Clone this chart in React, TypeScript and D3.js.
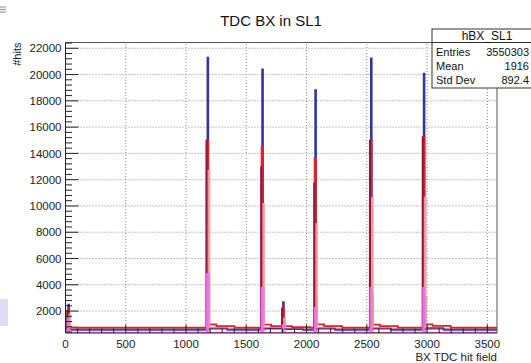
import React from "react";
import * as d3 from "d3";

const W = 531;
const H = 363;

const chartTitle = "TDC BX in SL1";
const xTitle = "BX TDC hit field";
const yTitle = "#hits";
const statsName = "hBX_SL1";
const statsLabels = ["Entries", "Mean", "Std Dev"];
const statsValues = ["3550303", "1916", "892.4"];

const xTicks = [0, 500, 1000, 1500, 2000, 2500, 3000, 3500];
const yTicks = [2000, 4000, 6000, 8000, 10000, 12000, 14000, 16000, 18000, 20000, 22000];
const xDomain = [0, 3580];
const yDomain = [330, 22440];

// peak positions (BX) and per-series peak heights
const peakBX = [27, 1182, 1636, 1809, 2076, 2538, 2976];
const blueTop = [2510, 21300, 20400, 2690, 18820, 21240, 20090];
const blueShoulder = [1500, 4900, 3800, 1200, 3000, 3300, 3100];
const redTop = [2100, 15000, 14490, 2300, 13650, 15000, 15250];
const darkRedTop = [2000, 15000, 12960, 2200, 11750, 15000, 15250];
const pinkTop = [1800, 12740, 10220, 1500, 8700, 10680, 10700];
const magentaTop = [1500, 4900, 3830, 1000, 2310, 3830, 3830];

// post-peak shoulders
const redTail = [760, 980, 960, 860, 980, 970, 990];
const redTail2 = [740, 860, 850, 780, 860, 860, 870];
const blueTail = [560, 700, 690, 620, 700, 700, 710];

// baseline levels
const redBase = 740;
const darkRedBase = 640;
const blueBase = 560;
const magentaBase = 430;

type Bin = [number, number, number];

function steps(base: number, spikes: Bin[]): [number, number][] {
  const s = [...spikes].sort((a, b) => a[0] - b[0]);
  const pts: [number, number][] = [];
  let cur = xDomain[0];
  for (const [a, b, v] of s) {
    if (a > cur) pts.push([cur, base]);
    pts.push([Math.max(a, xDomain[0]), v]);
    cur = b;
  }
  pts.push([cur, base]);
  pts.push([xDomain[1], base]);
  return pts;
}

const bluePts = steps(
  blueBase,
  peakBX.flatMap((p, i) => [
    [p - 6, p + 4, blueTop[i]] as Bin,
    [p + 4, p + 12, blueShoulder[i]] as Bin,
    [p + 12, p + 160, blueTail[i]] as Bin,
  ])
);
const redPts = steps(
  redBase,
  peakBX.flatMap((p, i) => [
    [p - 9, p + 2, redTop[i]] as Bin,
    [p + 2, p + 70, redTail[i]] as Bin,
    [p + 70, p + 220, redTail2[i]] as Bin,
  ])
);
const darkRedPts = steps(
  darkRedBase,
  peakBX.map((p, i) => [p - 16, p - 8, darkRedTop[i]] as Bin)
);
const pinkPts = steps(
  yDomain[0],
  peakBX.map((p, i) => [p - 20, p + 20, pinkTop[i]] as Bin)
);
const magentaPts = steps(
  magentaBase,
  peakBX.map((p, i) => [p - 16, p + 6, magentaTop[i]] as Bin)
);

export default function App() {
  const x = d3.scaleLinear().domain(xDomain).range([65.5, 497]);
  const y = d3.scaleLinear().domain(yDomain).range([333, 42.5]);
  const line = d3
    .line<[number, number]>()
    .x((d) => x(d[0]))
    .y((d) => y(d[1]))
    .curve(d3.curveStepAfter);
  const area = d3
    .area<[number, number]>()
    .x((d) => x(d[0]))
    .y0(y(yDomain[0]))
    .y1((d) => y(d[1]))
    .curve(d3.curveStepAfter);

  const [xl, xr] = x.range();
  const [yb, yt] = y.range();
  const yMinor = d3.range(400, yDomain[1], 400).filter((v) => v % 2000 !== 0 && v >= yDomain[0]);
  const xMinor = d3.range(0, xDomain[1], 100).filter((v) => v % 500 !== 0);
  const font = "'Liberation Sans', Arial, Helvetica, sans-serif";

  return (
    <svg
      width={W}
      height={H}
      style={{ position: "absolute", left: 0, top: 0, background: "#fff" }}
      fontFamily={font}
    >
      <rect x={0} y={0} width={W} height={H} fill="#fff" />
      {/* small menu glyph and side marker */}
      {[7, 9.5, 12].map((v) => (
        <line key={v} x1={0} x2={6} y1={v} y2={v} stroke="#9a9a9a" strokeWidth={1.2} />
      ))}
      <rect x={0} y={299} width={8} height={27} fill="#dedcf6" />

      {/* grid */}
      {xTicks
        .filter((t) => t > xDomain[0])
        .map((t) => (
          <line key={"gx" + t} x1={x(t)} x2={x(t)} y1={yb} y2={yt} stroke="#8a8a8a" strokeDasharray="1 2" />
        ))}
      {yTicks.map((t) => (
        <line key={"gy" + t} x1={xl} x2={xr} y1={y(t)} y2={y(t)} stroke="#8a8a8a" strokeDasharray="1 2" />
      ))}

      {/* histograms */}
      <path d={line(bluePts) || ""} fill="none" stroke="#34349f" strokeWidth={1.4} />
      <path d={line(redPts) || ""} fill="none" stroke="#e3202a" strokeWidth={1.8} />
      <path d={area(pinkPts) || ""} fill="#f4a3a3" fillOpacity={0.9} stroke="none" />
      <path d={line(darkRedPts) || ""} fill="none" stroke="#8a1840" strokeWidth={1.1} />
      <path d={area(magentaPts) || ""} fill="#ef6cef" stroke="none" />

      {/* frame */}
      <line x1={xl} x2={xr} y1={yt} y2={yt} stroke="#555" strokeWidth={1} />
      <line x1={xr} x2={xr} y1={yt} y2={yb} stroke="#555" strokeWidth={1} />

      {/* y axis */}
      <line x1={xl} x2={xl} y1={yt} y2={yb} stroke="#222" strokeWidth={1} />
      {yTicks.map((t) => (
        <g key={"yt" + t}>
          <line x1={xl} x2={xl + 13} y1={y(t)} y2={y(t)} stroke="#222" />
          <text x={xl - 4} y={y(t)} dy="0.36em" textAnchor="end" fontSize={11.5} fill="#222">
            {t}
          </text>
        </g>
      ))}
      {yMinor.map((t) => (
        <line key={"ym" + t} x1={xl} x2={xl + 6.5} y1={y(t)} y2={y(t)} stroke="#222" />
      ))}
      <text
        transform={`translate(21,${yt}) rotate(-90)`}
        textAnchor="end"
        fontSize={11}
        fill="#222"
      >
        {yTitle}
      </text>

      {/* x axis */}
      <line x1={xl} x2={xr} y1={yb} y2={yb} stroke="#222" strokeWidth={1} />
      {xTicks.map((t) => (
        <g key={"xt" + t}>
          <line x1={x(t)} x2={x(t)} y1={yb} y2={yb - 8.5} stroke="#222" />
          <text x={x(t)} y={347.5} textAnchor="middle" fontSize={11.5} fill="#222">
            {t}
          </text>
        </g>
      ))}
      {xMinor.map((t) => (
        <line key={"xm" + t} x1={x(t)} x2={x(t)} y1={yb} y2={yb - 4.5} stroke="#222" />
      ))}
      <text x={xr} y={361} textAnchor="end" fontSize={11.5} fill="#222">
        {xTitle}
      </text>

      {/* title */}
      <text x={271} y={25.5} textAnchor="middle" fontSize={15} fill="#111">
        {chartTitle}
      </text>

      {/* stats box */}
      <rect x={432} y={29} width={130} height={59} fill="#fff" stroke="#333" strokeWidth={1} />
      <line x1={432} x2={W} y1={42.5} y2={42.5} stroke="#333" />
      <text x={487} y={39.5} textAnchor="middle" fontSize={12} fill="#111">
        {statsName}
      </text>
      {statsLabels.map((l, i) => (
        <g key={l}>
          <text x={436} y={56 + i * 14} fontSize={11} fill="#111">
            {l}
          </text>
          <text x={529} y={56 + i * 14} textAnchor="end" fontSize={11} fill="#111">
            {statsValues[i]}
          </text>
        </g>
      ))}
    </svg>
  );
}
